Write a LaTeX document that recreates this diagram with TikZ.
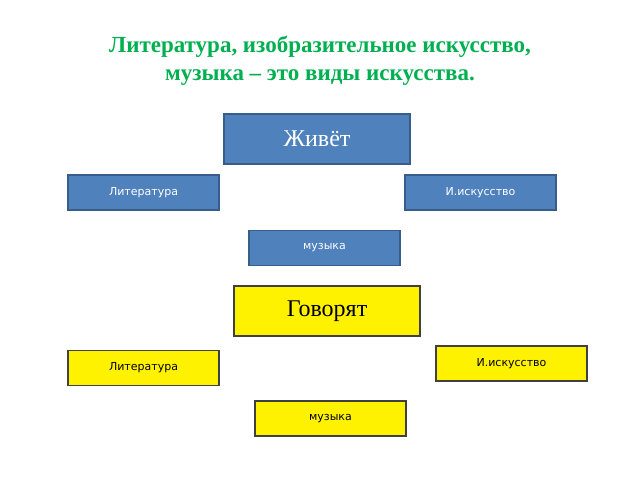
\documentclass[tikz,border=0pt]{standalone}
\usepackage{fontspec}
\setmainfont{Liberation Serif}
\setsansfont{DejaVu Sans}
\begin{document}
\begin{tikzpicture}[x=1pt,y=-1pt,
 bx/.style={draw=#1,line width=1.2pt,inner sep=0pt},
 blue/.style={bx=bd,fill=bl,text=white},
 yel/.style={bx=yd,fill=yellow,text=black},
 sm/.style={font=\sffamily\fontsize{11}{13}\selectfont,minimum width=151pt,minimum height=35pt},
 big/.style={font=\fontsize{24}{28}\selectfont,minimum width=186pt,minimum height=50pt}]
\definecolor{bl}{HTML}{4F81BD}
\definecolor{bd}{HTML}{385D8A}
\definecolor{yd}{HTML}{404040}
\definecolor{tg}{HTML}{00B050}
\useasboundingbox (0,0) rectangle (640,480);
\node[font=\bfseries\fontsize{23}{28}\selectfont,text=tg,align=center] (t) at (320,61) {Литература, изобразительное искусство,\\музыка – это виды искусства.};
\node[blue,big] (z) at (317,139) {Живёт};
\node[blue,sm] (l1) at (143.5,192.5) {Литература};
\node[blue,sm] (i1) at (480.5,192.5) {И.искусство};
\node[blue,sm] (m1) at (324.5,248) {музыка};
\node[yel,big] (g) at (327,311) {Говорят};
\node[yel,sm] (i2) at (511.5,363.5) {И.искусство};
\node[yel,sm] (l2) at (143.5,368) {Литература};
\node[yel,sm] (m2) at (330.5,418.5) {музыка};
\end{tikzpicture}
\end{document}
